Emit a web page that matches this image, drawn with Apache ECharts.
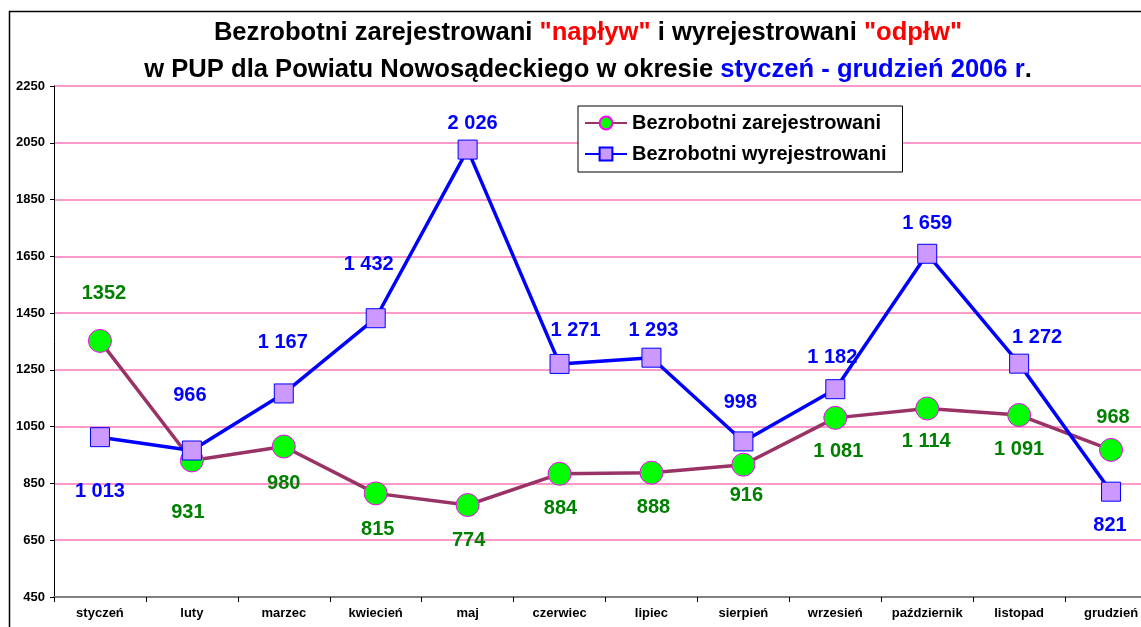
<!DOCTYPE html>
<html>
<head>
<meta charset="utf-8">
<script src="https://cdn.jsdelivr.net/npm/echarts@6/dist/echarts.min.js"></script>
<style>
html,body{margin:0;padding:0;background:#fff;}
#chart{width:1141px;height:627px;}
</style>
</head>
<body>
<div id="chart"></div>
<script>
// ---- data ----
const categories = ['styczeń','luty','marzec','kwiecień','maj','czerwiec','lipiec','sierpień','wrzesień','październik','listopad','grudzień'];
const zarejestrowani = [1352, 931, 980, 815, 774, 884, 888, 916, 1081, 1114, 1091, 968];
const wyrejestrowani = [1013, 966, 1167, 1432, 2026, 1271, 1293, 998, 1182, 1659, 1272, 821];
const zarejestrowaniLabels = ['1352','931','980','815','774','884','888','916','1 081','1 114','1 091','968'];
const wyrejestrowaniLabels = ['1 013','966','1 167','1 432','2 026','1 271','1 293','998','1 182','1 659','1 272','821'];
const yTicks = {min: 450, max: 2250, step: 200};
const seriesNames = ['Bezrobotni zarejestrowani', 'Bezrobotni wyrejestrowani'];

// ---- label placement (layout only) ----
const zOffsets = [[4,-47],[-4,52],[0,37],[2,36],[1,35],[1,35],[2,35],[3,31],[3,34],[-1,33],[0,34],[2,-32]];
const wOffsets = [[0,54],[-2,-55],[-1,-51],[-7,-54],[5,-26],[16,-33],[2,-27],[-3,-39],[-3,-32],[0,-30],[18,-26],[-1,34]];

const FONT = '"Liberation Sans", Arial, sans-serif';

function buildData(values, labels, offsets, color) {
  return values.map((v, i) => ({
    value: v,
    label: {
      show: true,
      position: 'inside',
      offset: offsets[i],
      formatter: labels[i],
      color: color,
      fontFamily: FONT,
      fontWeight: 'bold',
      fontSize: 20
    }
  }));
}

const chart = echarts.init(document.getElementById('chart'), null, {renderer: 'canvas'});
const titleBase = {fontFamily: FONT, fontWeight: 'bold', fontSize: 25.6, lineHeight: 37};
chart.setOption({
  backgroundColor: '#ffffff',
  animation: false,
  title: {
    text: '{k|Bezrobotni zarejestrowani }{r|"napływ"}{k| i wyrejestrowani }{r|"odpłw"}\n{k|w PUP dla Powiatu Nowosądeckiego w okresie }{b|styczeń - grudzień 2006 r}{k|.}',
    left: 588,
    top: 14,
    textAlign: 'center',
    padding: 0,
    textStyle: {
      fontFamily: FONT, fontWeight: 'bold', fontSize: 25.6, lineHeight: 37, color: '#000',
      rich: {
        k: Object.assign({color: '#000000'}, titleBase),
        r: Object.assign({color: '#FF0000'}, titleBase),
        b: Object.assign({color: '#0000FF'}, titleBase)
      }
    }
  },
  legend: {
    orient: 'vertical',
    left: 578,
    top: 106,
    padding: [7, 16, 8, 6],
    itemGap: 11,
    itemWidth: 42,
    itemHeight: 16,
    backgroundColor: '#ffffff',
    borderColor: '#000000',
    borderWidth: 1,
    borderRadius: 0,
    textStyle: {fontFamily: FONT, fontWeight: 'bold', fontSize: 20, color: '#000'},
    data: seriesNames
  },
  grid: {left: 54, width: 1103, top: 86, bottom: 30, containLabel: false, outerBoundsMode: 'none'},
  xAxis: {
    type: 'category',
    data: categories,
    boundaryGap: true,
    axisLine: {lineStyle: {color: '#808080', width: 2}},
    axisTick: {show: true, interval: 0, length: 5, lineStyle: {color: '#000', width: 1}},
    axisLabel: {interval: 0, margin: 10, color: '#000', fontFamily: FONT, fontWeight: 'bold', fontSize: 13},
    splitLine: {show: false}
  },
  yAxis: {
    type: 'value',
    min: yTicks.min,
    max: yTicks.max,
    interval: yTicks.step,
    axisLine: {show: true, lineStyle: {color: '#000', width: 1}},
    axisTick: {show: true, length: 4, lineStyle: {color: '#000'}},
    axisLabel: {margin: 9, color: '#000', fontFamily: FONT, fontWeight: 'bold', fontSize: 13,
      formatter: v => String(v)},
    splitLine: {show: true, lineStyle: {color: '#FF99CC', width: 2}}
  },
  graphic: [{
    type: 'rect',
    z: -10,
    silent: true,
    shape: {x: 9.5, y: 11.5, width: 1200, height: 700},
    style: {fill: null, stroke: '#000', lineWidth: 1.5}
  }],
  series: [
    {
      name: seriesNames[0],
      type: 'line',
      data: buildData(zarejestrowani, zarejestrowaniLabels, zOffsets, '#008000'),
      symbol: 'circle',
      symbolSize: 23,
      lineStyle: {color: '#993366', width: 3.5},
      itemStyle: {color: '#00FF00', borderColor: '#FF00FF', borderWidth: 1},
      z: 2
    },
    {
      name: seriesNames[1],
      type: 'line',
      data: buildData(wyrejestrowani, wyrejestrowaniLabels, wOffsets, '#0000FF'),
      symbol: 'rect',
      symbolSize: 19,
      lineStyle: {color: '#0000FF', width: 3.5},
      itemStyle: {color: '#CC99FF', borderColor: '#0000FF', borderWidth: 1},
      z: 3
    }
  ]
});
</script>
</body>
</html>
